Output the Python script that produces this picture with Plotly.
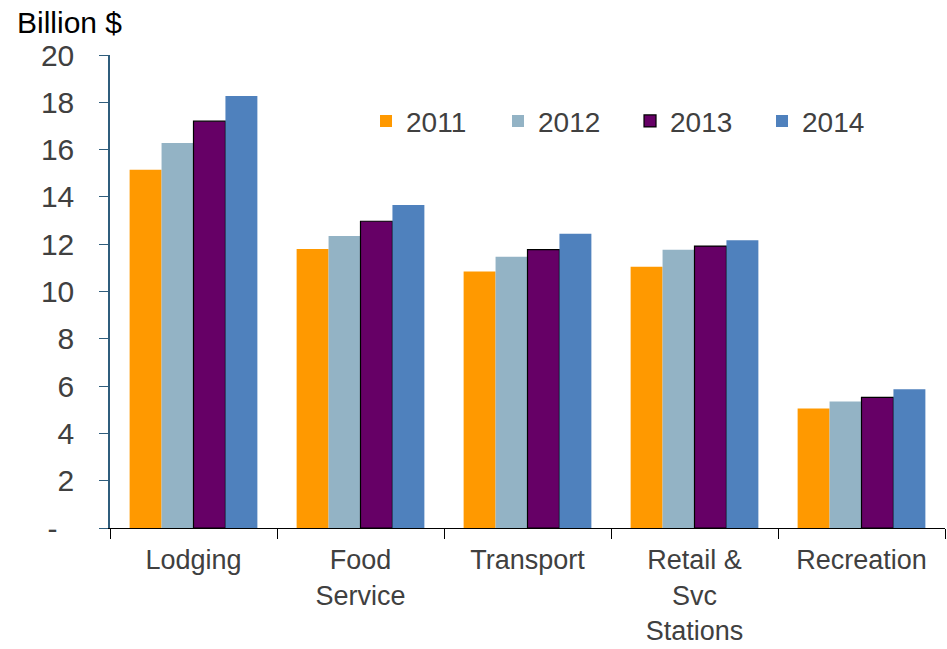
import plotly.graph_objects as go

categories = ["Lodging", "Food<br>Service", "Transport", "Retail &<br>Svc<br>Stations", "Recreation"]
years = ["2011", "2012", "2013", "2014"]
v2011 = [15.15, 11.8, 10.85, 11.05, 5.05]
v2012 = [16.28, 12.35, 11.47, 11.77, 5.35]
v2013 = [17.2, 12.97, 11.77, 11.92, 5.52]
v2014 = [18.27, 13.66, 12.44, 12.17, 5.87]
series = [v2011, v2012, v2013, v2014]
colors = ["#FF9900", "#93B3C5", "#660066", "#4F81BD"]
outlines = [0, 0, 1.2, 0]

ytick_vals = [0, 2, 4, 6, 8, 10, 12, 14, 16, 18, 20]
ytick_text = ["-\u00a0\u00a0", "2", "4", "6", "8", "10", "12", "14", "16", "18", "20"]

FONT = "Liberation Sans, Arial, sans-serif"

fig = go.Figure()
for yr, vals, col, lw in zip(years, series, colors, outlines):
    fig.add_trace(go.Bar(
        x=categories, y=vals, name=yr,
        marker=dict(color=col, line=dict(color="#000000", width=lw)),
    ))

fig.update_layout(
    width=947, height=649,
    paper_bgcolor="white", plot_bgcolor="white",
    margin=dict(l=110, r=2, t=55, b=121, autoexpand=False),
    barmode="group", bargap=0.235, bargroupgap=0,
    font=dict(family=FONT, size=30, color="#404040"),
    showlegend=True,
    legend=dict(
        orientation="h", x=0.3066, y=0.86, xanchor="left", yanchor="middle",
        font=dict(family=FONT, size=28, color="#404040"),
        entrywidth=87, bgcolor="rgba(0,0,0,0)", traceorder="normal",
    ),
    xaxis=dict(
        automargin=False,
        showline=True, linecolor="#000000", linewidth=1,
        ticks="outside", tickson="boundaries", ticklen=10, tickcolor="#000000",
        ticklabelstandoff=8,
        tickfont=dict(family=FONT, size=27, color="#404040"),
        showgrid=False, zeroline=False,
    ),
    yaxis=dict(
        automargin=False,
        range=[0, 20], tickvals=ytick_vals, ticktext=ytick_text,
        showline=True, linecolor="#2F5D7C", linewidth=1.5,
        ticks="outside", ticklen=9, tickcolor="#2F5D7C",
        ticklabelstandoff=19,
        tickfont=dict(family=FONT, size=30, color="#404040"),
        showgrid=False, zeroline=False,
    ),
    annotations=[dict(
        text="Billion $", xref="paper", yref="paper",
        x=-0.1138, y=1.0686, xanchor="left", yanchor="middle",
        showarrow=False, font=dict(family=FONT, size=30, color="#000000"),
    )],
)

fig.write_html(
    "out.html",
    config={"displayModeBar": False},
    post_script="document.body.style.margin='0';document.body.style.overflow='hidden';",
)
